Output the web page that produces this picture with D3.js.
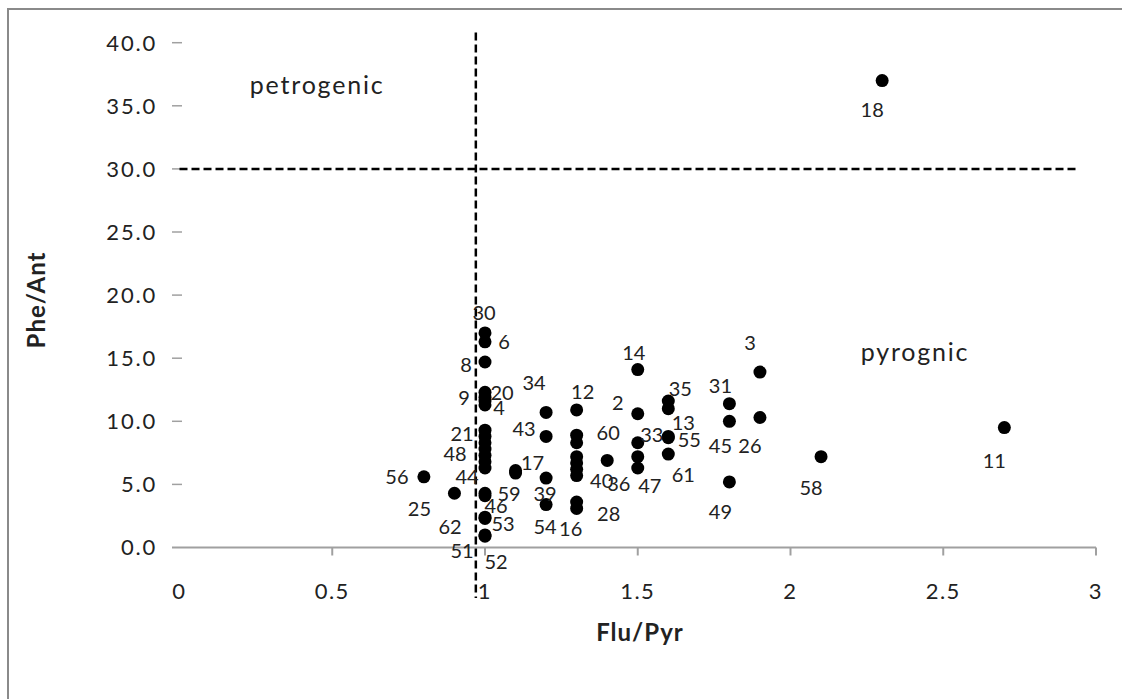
<!DOCTYPE html>
<html><head><meta charset="utf-8">
<script src="https://cdn.jsdelivr.net/npm/d3@7"></script>
<style>
html,body{margin:0;padding:0;background:#fff;}
svg{display:block;}
text{font-family:Lato,"Open Sans",sans-serif;fill:#222;}
</style></head>
<body>
<script>
// ---- data ----
const sampleIds = ["30","6","8","20","9","","4","21","","","48","","","44","59","46","53","62","51","52",
  "25","56","17","","34","43","39","54",
  "12","","","","","","40","28","16","60",
  "14","2","33","36","47",
  "35","","13","55","61",
  "31","45","49","3","26","58","18","11"];
const fluPyr = [1.0,1.0,1.0,1.0,1.0,1.0,1.0,1.0,1.0,1.0,1.0,1.0,1.0,1.0,1.0,1.0,1.0,1.0,1.0,1.0,
  0.9,0.8,1.1,1.1,1.2,1.2,1.2,1.2,
  1.3,1.3,1.3,1.3,1.3,1.3,1.3,1.3,1.3,1.4,
  1.5,1.5,1.5,1.5,1.5,
  1.6,1.6,1.6,1.6,1.6,
  1.8,1.8,1.8,1.9,1.9,2.1,2.3,2.7];
const pheAnt = [17.0,16.3,14.7,12.3,11.9,11.6,11.3,9.3,8.8,8.3,7.8,7.3,6.8,6.3,4.3,4.1,2.4,2.3,1.0,0.9,
  4.3,5.6,6.1,5.9,10.7,8.8,5.5,3.4,
  10.9,8.9,8.3,7.2,6.7,6.2,5.7,3.6,3.1,6.9,
  14.1,10.6,8.3,7.2,6.3,
  11.6,11.0,8.8,8.7,7.4,
  11.4,10.0,5.2,13.9,10.3,7.2,37.0,9.5];
const xTicks = [0,0.5,1,1.5,2,2.5,3];
const xTickLabels = ["0","0.5","1","1.5","2","2.5","3"];
const yTicks = [0,5,10,15,20,25,30,35,40];
const yTickLabels = ["0.0","5.0","10.0","15.0","20.0","25.0","30.0","35.0","40.0"];
const petroThresholdY = 30;   // Phe/Ant
const petroThresholdX = 0.97; // Flu/Pyr
const regionLabels = ["petrogenic","pyrognic"];
const xTitle = "Flu/Pyr", yTitle = "Phe/Ant";

// ---- layout (label nudges, px) ----
const labelNudge = {
 "30":[-1,-20],"6":[19,0],"8":[-19,3],"20":[17,1],"9":[-21,0],"4":[14,3],"21":[-23,4],"48":[-30,5],
 "44":[-18,9],"59":[24,1],"46":[11,10],"53":[18,7],"62":[-35,8],"51":[-23,16],"52":[11,26],
 "25":[-35,16],"56":[-27,0],"17":[17,-8],"34":[-12,-30],"43":[-22,-8],"39":[-1,16],"54":[-1,22],
 "12":[6,-18],"40":[25,5],"28":[32,12],"16":[-6,20],"60":[1,-28],
 "14":[-4,-17],"2":[-20,-11],"33":[14,-8],"36":[-19,27],"47":[12,18],
 "35":[12,-12],"13":[15,-14],"55":[21,2],"61":[15,21],
 "31":[-9,-18],"45":[-9,24],"49":[-9,30],"3":[-10,-29],"26":[-10,28],"58":[-10,31],"18":[-10,29],"11":[-10,33]
};

const W=1122,H=699;
const svg=d3.select("body").append("svg").attr("width",W).attr("height",H);
svg.append("rect").attr("x",8).attr("y",9).attr("width",1140).attr("height",720)
  .attr("fill","none").attr("stroke","#8a8a8a").attr("stroke-width",2);

const x=d3.scaleLinear().domain([0,3]).range([179.5,1096]);
const y=d3.scaleLinear().domain([0,40]).range([547.5,42.7]);

// x axis
const gx=svg.append("g");
gx.append("line").attr("x1",172).attr("x2",x(3)).attr("y1",y(0)).attr("y2",y(0))
  .attr("stroke","#a0a0a0").attr("stroke-width",2);
gx.selectAll(".xt").data(xTicks.slice(1)).join("line")
  .attr("x1",d=>x(d)).attr("x2",d=>x(d)).attr("y1",y(0)).attr("y2",y(0)+8)
  .attr("stroke","#a0a0a0").attr("stroke-width",2);
gx.selectAll(".xl").data(xTicks).join("text")
  .attr("x",d=>x(d)).attr("y",y(0)+51).attr("text-anchor","middle")
  .attr("font-size",22).attr("letter-spacing",1.5).text((d,i)=>xTickLabels[i]);

// y axis (tick marks only)
const gy=svg.append("g");
gy.selectAll(".yt").data(yTicks.slice(1)).join("line")
  .attr("x1",172).attr("x2",182).attr("y1",d=>y(d)).attr("y2",d=>y(d))
  .attr("stroke","#a0a0a0").attr("stroke-width",1.5);
gy.selectAll(".yl").data(yTicks).join("text")
  .attr("x",157).attr("y",d=>y(d)).attr("dy","0.36em").attr("text-anchor","end")
  .attr("font-size",22).attr("letter-spacing",1.8).text((d,i)=>yTickLabels[i]);

// threshold lines
svg.append("line").attr("x1",x(0)).attr("x2",x(2.935)).attr("y1",y(petroThresholdY)).attr("y2",y(petroThresholdY))
  .attr("stroke","#000").attr("stroke-width",2.5).attr("stroke-dasharray","8,4");
svg.append("line").attr("x1",x(petroThresholdX)).attr("x2",x(petroThresholdX)).attr("y1",y(40.8)).attr("y2",y(-4))
  .attr("stroke","#000").attr("stroke-width",2.5).attr("stroke-dasharray","8,4");

// region labels
svg.append("text").attr("x",x(0.23)).attr("y",y(35.9)).attr("font-size",25).attr("letter-spacing",1.8).text(regionLabels[0]);
svg.append("text").attr("x",x(2.23)).attr("y",y(14.8)).attr("font-size",25).attr("letter-spacing",1.8).text(regionLabels[1]);

// points
const pts=sampleIds.map((id,i)=>({id,x:fluPyr[i],y:pheAnt[i]}));
svg.append("g").selectAll("circle").data(pts).join("circle")
  .attr("cx",d=>x(d.x)).attr("cy",d=>y(d.y)).attr("r",6.5).attr("fill","#000");
svg.append("g").selectAll("text").data(pts.filter(d=>d.id!=="")).join("text")
  .attr("x",d=>x(d.x)+(labelNudge[d.id]||[12,0])[0])
  .attr("y",d=>y(d.y)+(labelNudge[d.id]||[12,0])[1])
  .attr("dy","0.36em").attr("text-anchor","middle").attr("font-size",20).text(d=>d.id);

// axis titles
svg.append("text").attr("x",640).attr("y",641).attr("text-anchor","middle")
  .attr("font-size",24).attr("font-weight","bold").attr("letter-spacing",1).text(xTitle);
svg.append("text").attr("transform","translate(45,300) rotate(-90)").attr("text-anchor","middle")
  .attr("font-size",24).attr("font-weight","bold").attr("letter-spacing",1).text(yTitle);
</script>
</body></html>
